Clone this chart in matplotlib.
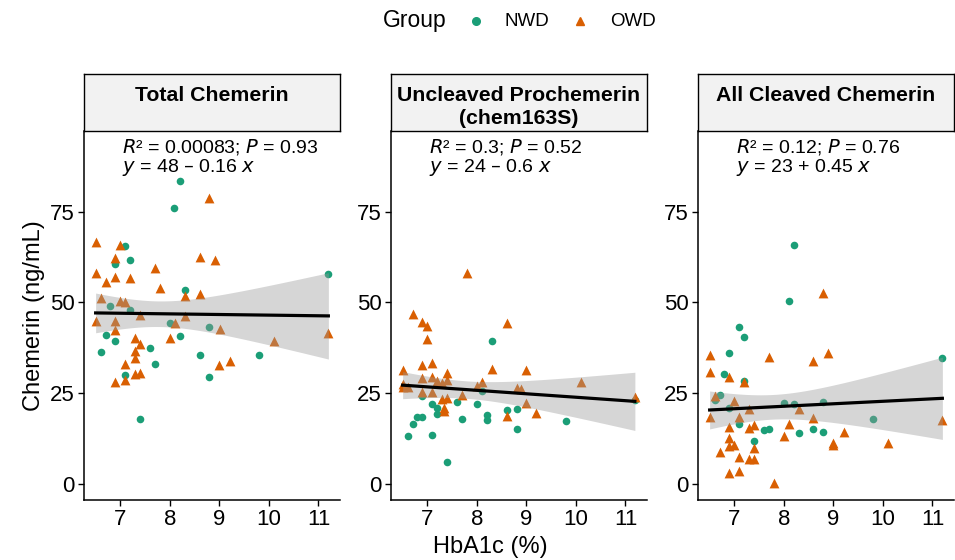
import numpy as np
from matplotlib import pyplot as plt
from matplotlib.lines import Line2D

plt.rcParams['font.family'] = ['Liberation Sans', 'DejaVu Sans']

panel_titles = ["Total Chemerin", "Uncleaved Prochemerin\n(chem163S)", "All Cleaved Chemerin"]
eq_labels = [
    ("0.00083", "0.93", "48 \u2013 0.16"),
    ("0.3", "0.52", "24 \u2013 0.6"),
    ("0.12", "0.76", "23 + 0.45"),
]

# Total chemerin
total_nwd_x = [8.20, 8.09, 7.10, 7.20, 6.90, 8.31, 11.20, 6.80, 7.20, 8.00, 8.79,
               6.70, 8.20, 6.90, 6.60, 7.60, 7.69, 8.61, 9.80, 7.10, 8.79, 7.40]
total_nwd_y = [83.4, 76.1, 65.4, 61.6, 60.6, 53.4, 57.8, 48.9, 47.9, 44.4, 43.3,
               41.0, 40.8, 39.5, 36.4, 37.5, 33.1, 35.4, 35.4, 30.0, 29.5, 17.9]
total_owd_x = [6.50, 6.99, 6.90, 6.50, 6.90, 7.20, 6.70, 7.69, 7.80, 8.79, 8.61,
               8.91, 8.61, 8.31, 6.60, 6.99, 7.10, 6.50, 6.90, 6.90, 7.40, 8.31,
               8.10, 9.01, 7.30, 7.40, 7.30, 7.30, 7.10, 8.00, 8.99, 9.21, 10.10,
               11.20, 6.90, 7.10, 7.30, 7.40]
total_owd_y = [66.6, 65.8, 62.2, 58.0, 56.9, 56.7, 55.6, 59.4, 53.9, 78.8, 62.4,
               61.6, 52.3, 51.8, 51.1, 50.4, 50.0, 44.8, 44.9, 42.5, 46.6, 46.2,
               44.3, 42.7, 40.3, 38.6, 36.5, 34.6, 33.1, 40.2, 32.9, 33.8, 39.3,
               41.6, 28.2, 28.7, 30.2, 30.5]

# Uncleaved prochemerin
pro_nwd_x = [8.30, 7.60, 8.00, 7.10, 6.90, 8.10, 7.20, 7.20, 8.60, 8.80, 8.20,
             8.20, 7.70, 6.80, 6.90, 6.70, 6.60, 7.10, 8.80, 9.80, 7.40, 11.19]
pro_nwd_y = [39.3, 22.6, 22.0, 21.9, 24.3, 25.5, 20.9, 19.3, 20.4, 20.6, 18.9,
             17.6, 17.9, 18.4, 18.5, 16.5, 13.3, 13.4, 15.2, 17.4, 6.1, 23.1]
pro_owd_x = [7.80, 6.70, 6.90, 7.00, 7.00, 8.60, 6.50, 6.90, 7.10, 7.40, 8.30,
             9.00, 6.90, 7.10, 7.20, 7.40, 7.30, 8.10, 10.10, 6.50, 6.50, 6.60,
             8.00, 8.80, 8.90, 7.10, 7.70, 7.30, 7.40, 7.33, 7.33, 9.00, 9.20,
             8.60, 11.19, 6.90]
pro_owd_y = [58.0, 46.8, 44.5, 43.5, 39.9, 44.4, 31.5, 32.8, 33.3, 30.6, 31.6,
             31.4, 29.2, 29.6, 28.5, 28.6, 27.7, 28.0, 28.0, 27.5, 26.6, 26.8,
             27.1, 26.4, 26.1, 25.3, 24.6, 23.4, 23.6, 20.9, 20.0, 22.2, 19.5,
             18.6, 23.9, 25.2]

# All cleaved chemerin
cl_nwd_x = [8.20, 8.10, 7.10, 7.20, 6.90, 6.80, 7.20, 6.70, 6.60, 6.90, 7.10,
            8.00, 8.20, 8.79, 7.60, 7.70, 7.40, 8.30, 8.59, 8.79, 9.80, 11.20]
cl_nwd_y = [65.7, 50.4, 43.3, 40.5, 36.1, 30.3, 28.5, 24.5, 23.0, 20.9, 16.5,
            22.4, 21.9, 22.7, 14.9, 15.2, 11.8, 14.0, 15.1, 14.2, 17.9, 34.6]
cl_owd_x = [8.79, 8.89, 6.50, 7.70, 8.59, 6.50, 6.90, 7.20, 6.60, 7.00, 7.30,
            8.30, 6.50, 7.10, 8.59, 6.90, 7.30, 7.40, 8.10, 9.21, 8.00, 6.90,
            7.00, 6.90, 7.40, 8.99, 10.10, 6.70, 7.10, 7.30, 7.40, 6.90, 7.10,
            7.80, 11.20, 8.99]
cl_owd_y = [52.5, 36.0, 35.4, 34.9, 34.0, 30.9, 29.4, 28.0, 24.3, 22.8, 20.7,
            20.7, 18.5, 18.5, 18.2, 15.8, 15.3, 16.3, 16.5, 14.4, 13.3, 12.7,
            10.8, 10.4, 9.9, 11.2, 11.3, 8.9, 7.5, 6.9, 6.9, 2.9, 3.7,
            0.2, 17.7, 10.7]

panels = [
    (total_nwd_x, total_nwd_y, total_owd_x, total_owd_y),
    (pro_nwd_x, pro_nwd_y, pro_owd_x, pro_owd_y),
    (cl_nwd_x, cl_nwd_y, cl_owd_x, cl_owd_y),
]

NWD_COL = "#1B9E77"
OWD_COL = "#D95F02"
T_CRIT = 2.0

W, H = 955, 560
fig = plt.figure(figsize=(W / 100, H / 100), dpi=100)

lefts = [84, 391, 698]
pw = 256
ax_top, ax_bot = 131, 500
strip_top = 74

for i, (nx, ny, ox, oy) in enumerate(panels):
    ax = fig.add_axes([lefts[i] / W, (H - ax_bot) / H, pw / W, (ax_bot - ax_top) / H])
    ax.scatter(nx, ny, s=30, color=NWD_COL, marker='o', linewidths=0, zorder=2)
    ax.scatter(ox, oy, s=50, color=OWD_COL, marker='^', linewidths=0, zorder=2)

    # linear fit with 95% band
    x = np.array(nx + ox)
    y = np.array(ny + oy)
    b, a = np.polyfit(x, y, 1)
    xs = np.linspace(x.min(), x.max(), 80)
    fit = a + b * xs
    resid = y - (a + b * x)
    n = len(x)
    s = np.sqrt(np.sum(resid ** 2) / (n - 2))
    se = s * np.sqrt(1 / n + (xs - x.mean()) ** 2 / np.sum((x - x.mean()) ** 2))
    ax.fill_between(xs, fit - T_CRIT * se, fit + T_CRIT * se, color='#999999',
                    alpha=0.4, linewidth=0, zorder=3)
    ax.plot(xs, fit, color='black', linewidth=2.3, zorder=4)

    r2, p, eq = eq_labels[i]
    ax.text(0.15, 0.985, f"$R$\u00b2 = {r2}; $P$ = {p}", transform=ax.transAxes,
            ha='left', va='top', fontsize=14)
    ax.text(0.15, 0.93, f"$y$ = {eq} $x$", transform=ax.transAxes,
            ha='left', va='top', fontsize=14)

    ax.set_xlim(6.265, 11.435)
    ax.set_ylim(-4.4, 97.2)
    ax.set_xticks([7, 8, 9, 10, 11])
    ax.set_yticks([0, 25, 50, 75])
    ax.tick_params(labelsize=16, length=4.5, width=1, pad=2, color='black',
                   labelcolor='black')
    for side in ['top', 'right']:
        ax.spines[side].set_visible(False)
    for side in ['left', 'bottom']:
        ax.spines[side].set_linewidth(1.1)
    if i == 0:
        ax.set_ylabel("Chemerin (ng/mL)", fontsize=17, labelpad=4)

    sx = fig.add_axes([lefts[i] / W, (H - ax_top) / H, pw / W, (ax_top - strip_top) / H])
    sx.set_facecolor('#F2F2F2')
    sx.set_xticks([])
    sx.set_yticks([])
    for sp in sx.spines.values():
        sp.set_linewidth(1.0)
    two = '\n' in panel_titles[i]
    sx.text(0.5, 0.42 if two else 0.63, panel_titles[i],
            ha='center', va='center', fontsize=15.3, fontweight='bold',
            linespacing=1.3, transform=sx.transAxes)

fig.text(490 / W, 1 - 547 / H, "HbA1c (%)", ha='center', va='center', fontsize=17)

# legend at top
ly = 1 - 21 / H
fig.text(383 / W, ly, "Group", ha='left', va='center', fontsize=16.5)
fig.add_artist(Line2D([476 / W], [ly], transform=fig.transFigure, marker='o',
                      color=NWD_COL, markersize=5.5, linestyle='none'))
fig.text(505 / W, ly, "NWD", ha='left', va='center', fontsize=13.5)
fig.add_artist(Line2D([580 / W], [ly], transform=fig.transFigure, marker='^',
                      color=OWD_COL, markersize=6, linestyle='none'))
fig.text(610 / W, ly, "OWD", ha='left', va='center', fontsize=13.5)

fig.savefig("out.png", dpi=100)
